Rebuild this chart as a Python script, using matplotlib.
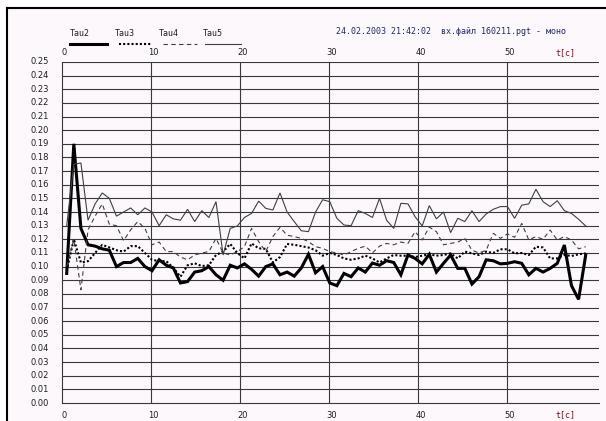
import numpy as np
import matplotlib.pyplot as plt
from matplotlib.lines import Line2D
from matplotlib.patches import Rectangle

# sampling: one point every ~0.8 s
t = 0.55 + 0.798 * np.arange(74)

tau2 = [0.095, 0.190, 0.128, 0.116, 0.115, 0.113, 0.112, 0.100, 0.103, 0.103,
        0.106, 0.100, 0.097, 0.105, 0.101, 0.099, 0.088, 0.089, 0.096, 0.097,
        0.100, 0.094, 0.090, 0.101, 0.099, 0.102, 0.098, 0.093, 0.100, 0.102,
        0.094, 0.096, 0.093, 0.099, 0.109, 0.0955, 0.100, 0.088, 0.086, 0.095,
        0.0926, 0.099, 0.096, 0.1026, 0.101, 0.1043, 0.103, 0.094, 0.1085, 0.106,
        0.102, 0.109, 0.096, 0.1024, 0.1085, 0.0987, 0.0987, 0.0872, 0.0926, 0.105,
        0.1043, 0.102, 0.1024, 0.1036, 0.1024, 0.094, 0.0987, 0.096, 0.0987, 0.1024,
        0.1158, 0.086, 0.076, 0.1085]

tau3 = [0.097, 0.120, 0.103, 0.104, 0.110, 0.116, 0.114, 0.112, 0.111, 0.115,
        0.115, 0.110, 0.105, 0.104, 0.104, 0.099, 0.0926, 0.101, 0.1024, 0.1004,
        0.101, 0.1085, 0.111, 0.1166, 0.110, 0.106, 0.117, 0.1134, 0.113, 0.103,
        0.107, 0.1166, 0.116, 0.115, 0.114, 0.112, 0.108, 0.110, 0.1085, 0.106,
        0.105, 0.106, 0.108, 0.106, 0.103, 0.106, 0.1085, 0.108, 0.108, 0.107,
        0.108, 0.109, 0.108, 0.1085, 0.1097, 0.106, 0.111, 0.1097, 0.1085, 0.111,
        0.110, 0.1127, 0.1127, 0.1097, 0.110, 0.1085, 0.1146, 0.114, 0.106, 0.106,
        0.1085, 0.1078, 0.109, 0.1097]

tau4 = [0.100, 0.120, 0.083, 0.127, 0.137, 0.146, 0.131, 0.130, 0.119, 0.127,
        0.133, 0.128, 0.116, 0.118, 0.111, 0.111, 0.107, 0.105, 0.1085, 0.110,
        0.111, 0.1207, 0.110, 0.1085, 0.111, 0.1146, 0.128, 0.1183, 0.111, 0.122,
        0.1288, 0.123, 0.122, 0.1207, 0.1183, 0.1146, 0.1134, 0.111, 0.110, 0.1085,
        0.111, 0.1134, 0.115, 0.110, 0.115, 0.117, 0.116, 0.118, 0.117, 0.1256,
        0.1195, 0.129, 0.1256, 0.116, 0.117, 0.118, 0.1207, 0.112, 0.110, 0.112,
        0.1244, 0.1207, 0.124, 0.1215, 0.1317, 0.1195, 0.122, 0.120, 0.1268, 0.1195,
        0.122, 0.1195, 0.113, 0.1146]

tau5 = [0.130, 0.175, 0.176, 0.134, 0.146, 0.154, 0.150, 0.137, 0.140, 0.143,
        0.138, 0.143, 0.140, 0.130, 0.138, 0.135, 0.134, 0.142, 0.133, 0.141,
        0.136, 0.1476, 0.1085, 0.128, 0.1298, 0.136, 0.139, 0.148, 0.1427, 0.1415,
        0.154, 0.140, 0.133, 0.1263, 0.1256, 0.140, 0.149, 0.1476, 0.1354, 0.1305,
        0.130, 0.141, 0.139, 0.136, 0.150, 0.134, 0.128, 0.1464, 0.146, 0.1366,
        0.1298, 0.1447, 0.135, 0.140, 0.1249, 0.1354, 0.133, 0.141, 0.133, 0.1386,
        0.142, 0.144, 0.144, 0.1354, 0.145, 0.146, 0.1567, 0.1476, 0.144, 0.1483,
        0.141, 0.139, 0.1347, 0.1298]

names = ['Tau2', 'Tau3', 'Tau4', 'Tau5']
series = [tau2, tau3, tau4, tau5]
styles = [dict(color='black', lw=2.2, ls='-'),
          dict(color='black', lw=1.5, ls=(0, (1, 1))),
          dict(color='#404040', lw=0.8, ls=(0, (4, 3))),
          dict(color='#404040', lw=0.8, ls='-')]

xticks = [0, 10, 20, 30, 40, 50]
yticks = np.round(np.arange(0, 0.251, 0.01), 2)

W, H = 606, 421
bg = '#fcf8fc'
grid = '#383838'
mono = 'DejaVu Sans Mono'

fig = plt.figure(figsize=(W / 100, H / 100), dpi=100)
fig.patch.set_facecolor('white')
fig.add_artist(Rectangle((7 / W, 0), 1, 1 - 7.5 / H, transform=fig.transFigure,
                         facecolor=bg, edgecolor='none', zorder=0))
# window frame
fig.add_artist(Line2D([7 / W, 7 / W], [0, 1 - 7.5 / H], color='black', lw=1.5))
fig.add_artist(Line2D([7 / W, 1], [1 - 7.5 / H, 1 - 7.5 / H], color='black', lw=1.5))

ax = fig.add_axes([61.8 / W, 1 - 403 / H, (598.5 - 61.8) / W, (403 - 62) / H])
ax.set_facecolor(bg)
ax.set_xlim(0, 60.24)
ax.set_ylim(0, 0.25)
ax.set_xticks([])
ax.set_yticks([])
for s in ['top', 'right']:
    ax.spines[s].set_visible(False)
ax.spines['left'].set_color(grid)
ax.spines['bottom'].set_color(grid)
ax.spines['left'].set_linewidth(0.8)
ax.spines['bottom'].set_linewidth(0.8)

for v in yticks[1:]:
    ax.axhline(v, color=grid, lw=0.8, zorder=1)
for x in xticks[1:]:
    ax.axvline(x, color=grid, lw=0.8, zorder=1)

for vals, st in zip(series, styles):
    ax.plot(t, vals, zorder=3, solid_joinstyle='miter', **st)

fs = 6
xt = ax.get_xaxis_transform()
yt = ax.get_yaxis_transform()
for v in yticks:
    ax.text(-0.024, v, f'{v:.2f}', transform=yt, ha='right', va='center',
            fontsize=fs, color='#202020')
for x in xticks:
    for yy in (1.0264, -0.0352):
        ax.text(x + 0.25, yy, str(x), transform=xt, ha='center', va='center',
                fontsize=fs, color='#202020', clip_on=False)
for yy in (1.0264, -0.0352):
    ax.text(56.5, yy, 't[c]', transform=xt, ha='center', va='center',
            fontsize=fs, color='#7a1010', family=mono, clip_on=False)

# series key along the top
text_x = [70, 115, 159, 203]
line_x = [(70, 107), (119, 152), (163, 197), (205, 241)]
for name, st, tx, (x0, x1) in zip(names, styles, text_x, line_x):
    fig.text(tx / W, 1 - 33 / H, name, ha='left', va='center', fontsize=fs,
             color='#202020', family=mono)
    fig.add_artist(Line2D([x0 / W, x1 / W], [1 - 44 / H, 1 - 44 / H], **st))

fig.text(336 / W, 1 - 32 / H, '24.02.2003 21:42:02  вх.файл 160211.pgt - моно',
         ha='left', va='center', fontsize=fs, color='#1c2a6a', family=mono)

fig.savefig('out.png', dpi=100, facecolor=fig.get_facecolor())
